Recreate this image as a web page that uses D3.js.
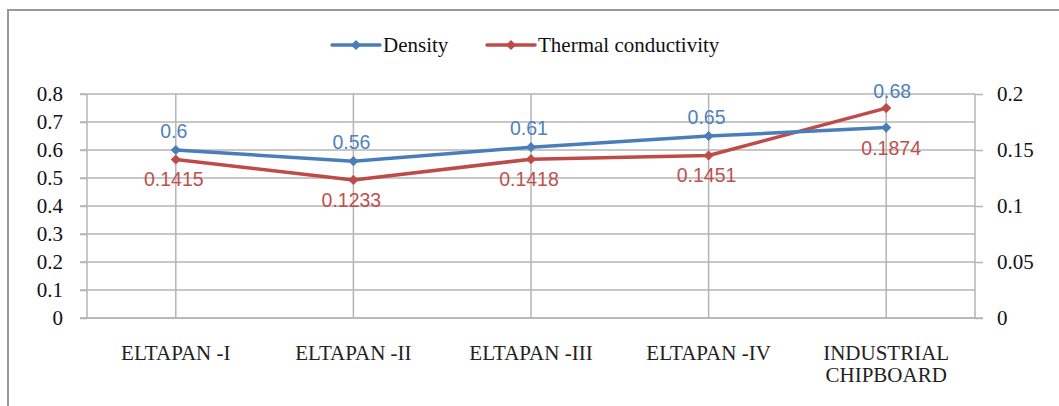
<!DOCTYPE html>
<html>
<head>
<meta charset="utf-8">
<script src="https://cdn.jsdelivr.net/npm/d3@7"></script>
<style>
  html, body { margin: 0; padding: 0; background: #fff; }
  svg { display: block; }
</style>
</head>
<body>
<svg id="chart" width="1059" height="406"></svg>
<script>
// Panel materials: density (left axis) and thermal conductivity (right axis)
const categories = ["ELTAPAN -I", "ELTAPAN -II", "ELTAPAN -III", "ELTAPAN -IV", "INDUSTRIAL CHIPBOARD"];
const densityValues = [0.6, 0.56, 0.61, 0.65, 0.68];
const conductivityValues = [0.1415, 0.1233, 0.1418, 0.1451, 0.1874];
const leftTicks = [0, 0.1, 0.2, 0.3, 0.4, 0.5, 0.6, 0.7, 0.8];
const rightTicks = [0, 0.05, 0.1, 0.15, 0.2];
const seriesNames = ["Density", "Thermal conductivity"];

const svg = d3.select("#chart");
const W = 1059, H = 406;
const plot = { left: 87, right: 975, top: 94, bottom: 318 };

const blue = "#4a7ebb", red = "#be4b48";
const blueText = "#4f81bd", redText = "#c0504d";
const gridColor = "#b4b4b4";
const serif = "'Liberation Serif', 'Times New Roman', serif";
const sans = "'Liberation Sans', Arial, sans-serif";

// Outer frame of the chart area
svg.append("rect")
  .attr("x", 8).attr("y", 10)
  .attr("width", W + 10).attr("height", H + 10)
  .attr("fill", "none").attr("stroke", "#9a9a9a").attr("stroke-width", 2);

const x = d3.scalePoint().domain(categories)
  .range([plot.left, plot.right]).padding(0.5);
const yL = d3.scaleLinear().domain([0, 0.8]).range([plot.bottom, plot.top]);
const yR = d3.scaleLinear().domain([0, 0.2]).range([plot.bottom, plot.top]);

// Horizontal gridlines with left tick marks
const gridG = svg.append("g");
gridG.selectAll("line.h").data(leftTicks).join("line")
  .attr("x1", plot.left - 7).attr("x2", plot.right)
  .attr("y1", d => yL(d)).attr("y2", d => yL(d))
  .attr("stroke", gridColor).attr("stroke-width", 1.5);

// Vertical gridlines at each category
gridG.selectAll("line.v").data(categories).join("line")
  .attr("x1", d => x(d)).attr("x2", d => x(d))
  .attr("y1", plot.top).attr("y2", plot.bottom)
  .attr("stroke", gridColor).attr("stroke-width", 1.5);

// Left axis
const axL = svg.append("g").attr("transform", `translate(${plot.left},0)`)
  .call(d3.axisLeft(yL).tickValues(leftTicks).tickSize(7).tickPadding(17)
    .tickFormat(d => d === 0 ? "0" : d3.format(".1f")(d)));

// Right axis
const axR = svg.append("g").attr("transform", `translate(${plot.right},0)`)
  .call(d3.axisRight(yR).tickValues(rightTicks).tickSize(8).tickPadding(14)
    .tickFormat(d => String(+d.toFixed(2))));

// Bottom axis line (labels are drawn separately so they can wrap)
const axB = svg.append("g").attr("transform", `translate(0,${plot.bottom})`)
  .call(d3.axisBottom(x).tickSize(0).tickFormat(""));
axB.select(".domain").attr("d", `M${plot.left - 7},0H${plot.right + 8}`);

[axL, axR, axB].forEach(ax => {
  ax.select(".domain").attr("stroke", gridColor).attr("stroke-width", 1.5);
  ax.selectAll(".tick line").attr("stroke", gridColor).attr("stroke-width", 1.5);
  ax.selectAll(".tick text")
    .attr("fill", "#111").style("font-family", serif).style("font-size", "21px");
});
axL.select(".domain").attr("d", `M0,${plot.top}V${plot.bottom}`);
axR.select(".domain").attr("d", `M0,${plot.top}V${plot.bottom}`);

// Category labels, wrapped on spaces after the word "INDUSTRIAL"
const catG = svg.append("g");
categories.forEach(c => {
  const lines = c.startsWith("INDUSTRIAL") ? c.split(" ") : [c];
  const t = catG.append("text")
    .attr("x", x(c)).attr("y", 360)
    .attr("text-anchor", "middle")
    .attr("fill", "#222").style("font-family", serif).style("font-size", "21px");
  lines.forEach((ln, i) => {
    t.append("tspan").attr("x", x(c)).attr("dy", i === 0 ? 0 : 22).text(ln);
  });
});

// Series lines and diamond markers (a square turned 45 degrees)
const marker = d3.symbol().type(d3.symbolSquare).size(52);

function drawSeries(values, yScale, color) {
  const line = d3.line().x((d, i) => x(categories[i])).y(d => yScale(d));
  svg.append("path").datum(values)
    .attr("d", line).attr("fill", "none")
    .attr("stroke", color).attr("stroke-width", 3.5)
    .attr("stroke-linejoin", "round").attr("stroke-linecap", "round");
  svg.append("g").selectAll("path").data(values).join("path")
    .attr("d", marker)
    .attr("transform", (d, i) => `translate(${x(categories[i])},${yScale(d)}) rotate(45)`)
    .attr("fill", color);
}
drawSeries(conductivityValues, yR, red);
drawSeries(densityValues, yL, blue);

// Data labels: density above, conductivity below; the last pair is pushed
// further out so it clears the crossing lines
const last = categories.length - 1;
svg.append("g").selectAll("text").data(densityValues).join("text")
  .attr("x", (d, i) => x(categories[i]) + (i === last ? 6 : -2))
  .attr("y", (d, i) => yL(d) + (i === last ? -36 : -19))
  .attr("dy", "0.35em").attr("text-anchor", "middle")
  .attr("fill", blueText).style("font-family", sans).style("font-size", "19.5px")
  .text(d => d);
svg.append("g").selectAll("text").data(conductivityValues).join("text")
  .attr("x", (d, i) => x(categories[i]) + (i === last ? 5 : -2))
  .attr("y", (d, i) => yR(d) + (i === last ? 40 : 20))
  .attr("dy", "0.35em").attr("text-anchor", "middle")
  .attr("fill", redText).style("font-family", sans).style("font-size", "19.5px")
  .text(d => d);

// Legend
const legendItems = [
  { name: seriesNames[0], color: blue, x0: 332 },
  { name: seriesNames[1], color: red, x0: 487 }
];
const lg = svg.append("g");
legendItems.forEach(it => {
  lg.append("line")
    .attr("x1", it.x0).attr("x2", it.x0 + 48).attr("y1", 45).attr("y2", 45)
    .attr("stroke", it.color).attr("stroke-width", 3.5).attr("stroke-linecap", "round");
  lg.append("path").attr("d", marker)
    .attr("transform", `translate(${it.x0 + 24},45) rotate(45)`).attr("fill", it.color);
  lg.append("text")
    .attr("x", it.x0 + 51).attr("y", 45).attr("dy", "0.35em")
    .attr("fill", "#111").style("font-family", serif).style("font-size", "21px")
    .text(it.name);
});
</script>
</body>
</html>
